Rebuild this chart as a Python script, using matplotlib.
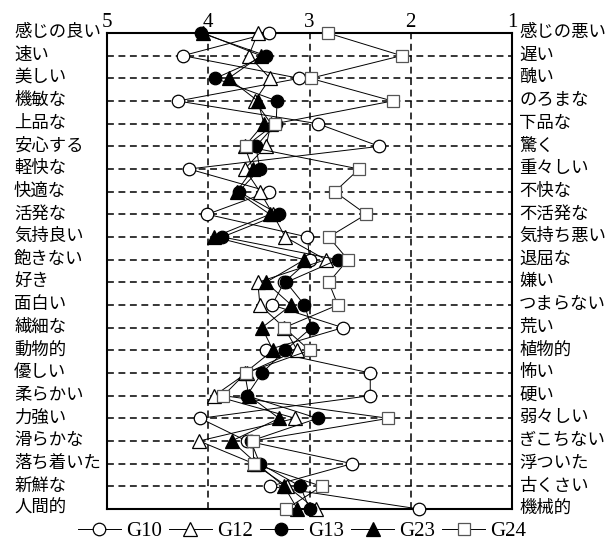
import matplotlib
matplotlib.use("Agg")
import matplotlib.pyplot as plt

plt.rcParams['font.family'] = ['Liberation Serif', 'Noto Sans CJK JP']

left_labels = ["感じの良い", "速い", "美しい", "機敏な", "上品な", "安心する", "軽快な",
               "快適な", "活発な", "気持良い", "飽きない", "好き", "面白い", "繊細な",
               "動物的", "優しい", "柔らかい", "力強い", "滑らかな", "落ち着いた",
               "新鮮な", "人間的"]
right_labels = ["感じの悪い", "遅い", "醜い", "のろまな", "下品な", "驚く", "重々しい",
                "不快な", "不活発な", "気持ち悪い", "退屈な", "嫌い", "つまらない", "荒い",
                "植物的", "怖い", "硬い", "弱々しい", "ぎこちない", "浮ついた",
                "古くさい", "機械的"]
x_ticks = [5, 4, 3, 2, 1]

G10 = [3.40, 4.25, 3.10, 4.30, 2.92, 2.31, 4.19, 3.40, 4.01, 3.02, 3.00,
       3.25, 3.37, 2.67, 3.43, 2.40, 2.40, 4.08, 3.62, 2.58, 3.39, 1.92]
G12 = [3.51, 3.60, 3.39, 3.54, 3.38, 3.43, 3.64, 3.49, 3.36, 3.24, 2.84,
       3.51, 3.49, 3.25, 3.12, 3.62, 3.94, 3.14, 4.09, 3.55, 3.22, 2.94]
G13 = [4.07, 3.43, 3.93, 3.32, 3.33, 3.53, 3.49, 3.70, 3.30, 3.86, 2.72,
       3.23, 3.05, 2.98, 3.24, 3.47, 3.62, 2.92, 3.58, 3.49, 3.09, 3.00]
G23 = [4.05, 3.48, 3.80, 3.51, 3.45, 3.64, 3.56, 3.72, 3.39, 3.94, 3.05,
       3.43, 3.18, 3.47, 3.36, 3.64, 3.60, 3.30, 3.77, 3.52, 3.25, 3.12]
G24 = [2.82, 2.09, 2.99, 2.18, 3.34, 3.63, 2.51, 2.75, 2.44, 2.81, 2.62,
       2.81, 2.72, 3.25, 3.00, 3.63, 3.85, 2.22, 3.56, 3.55, 2.88, 3.23]

series = [
    ("G10", G10, dict(marker='o', mfc='white', mec='black', ms=9)),
    ("G12", G12, dict(marker='^', mfc='white', mec='black', ms=9.5)),
    ("G13", G13, dict(marker='o', mfc='black', mec='black', ms=9)),
    ("G23", G23, dict(marker='^', mfc='black', mec='black', ms=9.5)),
    ("G24", G24, dict(marker='s', mfc='white', mec='#555555', ms=8.5)),
]

W, H = 614, 540
fig = plt.figure(figsize=(W / 100, H / 100), dpi=100)
L, R, T, B = 107, 512, 33, 509
ax = fig.add_axes([L / W, 1 - B / H, (R - L) / W, (B - T) / H])

n = len(left_labels)
ys = list(range(n))

dash = (0, (4.5, 3))
for i in range(1, n - 1):
    ax.axhline(i, color='black', lw=1.1, ls=dash, zorder=1)
for xv in [4, 3, 2]:
    ax.axvline(xv, color='black', lw=1.1, ls=dash, zorder=1)

handles = []
for name, vals, st in series:
    ln, = ax.plot(vals, ys, color='black', lw=0.7, mew=0.9, clip_on=False,
                  zorder=3, label=name, **st)
    handles.append(ln)

ax.set_xlim(5, 1)
ax.set_ylim(n - 1, 0)
ax.xaxis.tick_top()
ax.set_xticks(x_ticks)
ax.set_xticklabels([str(t) for t in x_ticks], fontsize=15)
ax.tick_params(axis='x', length=0, pad=1)
ax.set_yticks([])
for s in ax.spines.values():
    s.set_linewidth(1.5)

for i, (lt, rt) in enumerate(zip(left_labels, right_labels)):
    yfig = 1 - (T + (B - T) * i / (n - 1)) / H
    fig.text(14 / W, yfig, lt, fontsize=12.5, ha='left', va='center')
    fig.text(519 / W, yfig, rt, fontsize=12.5, ha='left', va='center')

leg = fig.legend(handles=handles, loc='center', bbox_to_anchor=(302 / W, 1 - 531 / H),
                 ncol=5, frameon=False, fontsize=15, handlelength=2.07,
                 columnspacing=0.34, handletextpad=0.24, borderpad=0)

fig.savefig("out.png", dpi=100)
